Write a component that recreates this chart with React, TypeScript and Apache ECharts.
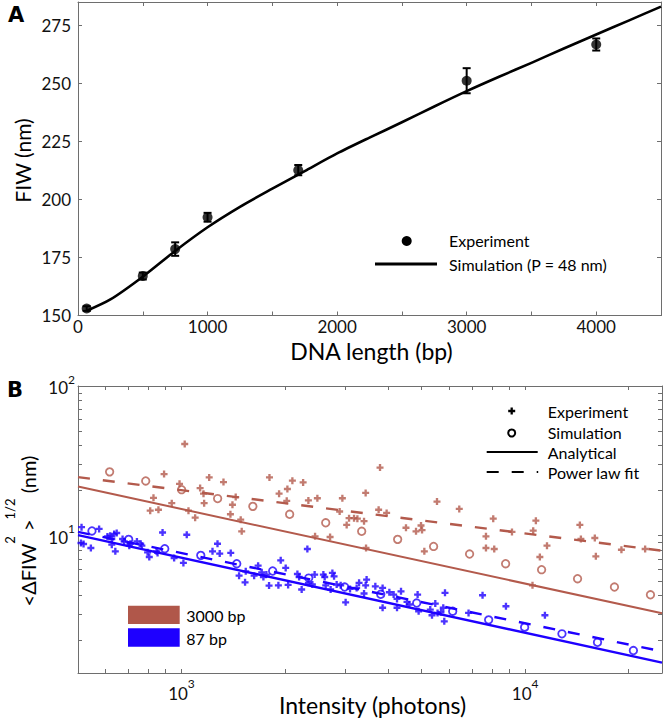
import React, { useEffect, useRef } from 'react';
import * as echarts from 'echarts';

const RED = '#b35a4c';
const RED_BOX = '#b0574a';
const BLUE = '#1e00ff';
const AXIS_COLOR = '#6e6e6e';
const LABEL_COLOR = '#111111';
const FONT = 'Lato';

// ---------- Panel A ----------
const expLength = [67, 500, 750, 1000, 1700, 3000, 4000];
const expFIW = [153, 167, 178.6, 192.3, 212.6, 251.1, 266.7];
const expErr = [1.0, 1.5, 2.9, 1.9, 2.2, 5.4, 2.6];
const simLength = [67, 250, 500, 750, 1000, 1250, 1500, 1750, 2000, 2250, 2500, 2750, 3000, 3250, 3500, 3750, 4000, 4250, 4500];
const simFIW = [152, 156.9, 166.7, 177.8, 188.0, 196.8, 204.6, 212.2, 219.8, 226.6, 233.2, 240.0, 246.6, 252.8, 258.8, 265.0, 271.0, 277.0, 283.0];
const aXTicks = [0, 500, 1000, 1500, 2000, 2500, 3000, 3500, 4000, 4500];
const aXLabels = [0, 1000, 2000, 3000, 4000];
const aYTicks = [150, 175, 200, 225, 250, 275];

// ---------- Panel B ----------
const red3000ExpX = [1022, 890, 829, 811, 857, 937, 987, 1048, 1096, 1133, 1159, 1164, 1204, 1325, 1388, 1407, 1438, 1487, 1497, 1803, 1923, 2024, 2033, 2102, 2259, 2340, 2485, 2447, 2706, 2938, 2885, 3024, 3073, 3177, 3249, 3434, 3397, 3443,
  3781, 3746, 3952, 4499, 4812, 4976, 5010, 5088, 5538, 6429, 7688, 7688, 8072, 8126, 9151, 10500, 10550, 10740, 11030, 11570, 14420, 14520, 15940, 16050, 19050, 22330];
const red3000ExpY = [41.0, 25.8, 17.9, 14.7, 14.9, 16.5, 22.2, 14.7, 13.2, 20.8, 19.1, 16.5, 24.5, 22.8, 13.9, 16.1, 18.1, 12.8, 10.7, 24.5, 19.1, 17.1, 20.5, 23.3, 22.7, 17.2, 17.8, 9.9, 9.8, 17.8, 14.5, 11.8, 13.1, 13.1, 13.0, 19.3, 12.5, 8.28,
  28.5, 14.9, 14.2, 11.3, 10.7, 11.7, 10.9, 7.86, 16.9, 15.1, 9.9, 8.28, 13.0, 8.15, 10.6, 4.66, 10.8, 12.6, 7.21, 8.58, 11.8, 9.51, 9.65, 7.28, 8.06, 8.15];

const blue87ExpX = [512, 576, 510, 519, 545, 609, 620, 627, 637, 648, 627, 642, 674, 681, 705, 710, 742, 761, 767, 797, 806, 846, 852, 881, 952, 1013, 1036, 1231, 1273, 1292, 1391, 1471, 1531, 1538, 1627, 1671, 1712, 1731, 1766, 1798, 1914, 1944, 2010, 2043, 2174, 2199, 2237, 2324, 2340, 2440, 2403, 2587, 2610, 2628, 2716, 2748, 2779, 2828, 2905, 3003, 3093, 3233, 3286, 3397, 3456, 3434,
  3664, 3847, 4025, 4142, 4237, 4352, 3847, 4237, 4530, 4600, 4864, 4897, 5294, 5356, 5475, 5559, 5687, 5776, 5815, 5843, 6842, 7514, 8789, 11410];
const blue87ExpY = [11.4, 11.1, 8.94, 8.80, 8.28, 9.89, 10.0, 9.51, 10.26, 10.42, 8.71, 7.86, 9.51, 9.16, 8.58, 8.84, 9.16, 8.84, 8.58, 7.74, 7.21, 7.86, 7.67, 10.5, 7.10, 6.58, 10.15, 7.86, 8.84, 7.59, 7.67, 5.41, 4.88, 5.78, 5.41, 6.31, 5.69, 5.30, 5.50, 4.64, 4.66, 6.85, 6.09, 4.69, 5.55, 5.30, 4.37, 8.15, 4.84, 5.50, 4.72, 5.50, 5.30, 4.66, 4.37, 5.64, 5.35, 4.72, 4.66, 3.59, 4.41, 4.48, 4.84, 4.11, 5.09, 4.66,
  4.59, 4.48, 4.19, 4.04, 3.78, 4.25, 3.30, 3.30, 3.61, 3.47, 4.04, 3.13, 3.21, 2.94, 3.52, 3.05, 3.08, 3.30, 2.68, 4.15, 3.05, 4.00, 3.38, 2.94];

const red3000SimX = [618, 787, 1001, 1274, 1613, 2064, 2628, 3344, 4255, 5413, 6889, 8770, 11160, 14200, 18180, 23140];
const red3000SimY = [26.7, 23.2, 20.3, 17.7, 15.7, 13.9, 12.2, 10.7, 9.45, 8.48, 7.54, 6.50, 5.93, 5.16, 4.54, 4.03];
const blue87SimX = [549, 702, 894, 1138, 1448, 1842, 2345, 2984, 3799, 4834, 6152, 7828, 9961, 12790, 16230, 20640];
const blue87SimY = [10.75, 9.45, 8.19, 7.39, 6.50, 5.81, 5.21, 4.54, 4.06, 3.55, 3.13, 2.74, 2.45, 2.21, 1.94, 1.71];

const lineEndsX = [500, 25000];
const red3000Analytical = [21.3, 3.03];
const red3000PowerFit = [24.6, 7.94];
const blue87Analytical = [10.1, 1.42];
const blue87PowerFit = [10.6, 1.69];

const bXTicks = [500, 600, 700, 800, 900, 1000, 2000, 3000, 4000, 5000, 6000, 7000, 8000, 9000, 10000, 20000];
const bXLabels = [1000, 10000];
const bYTicks = [2, 3, 4, 5, 6, 7, 8, 9, 10, 20, 30, 40, 50, 60, 70, 80, 90, 100];
const bYLabels = [10, 100];

const PLUS = 'path://M2,0H4V2H6V4H4V6H2V4H0V2H2Z';

const zip = (xs: number[], ys: number[]) => xs.map((x, i) => [x, ys[i]]);

function axis(gridIndex: number, type: string, min: number, max: number, position: string,
  ticks: number[], labels: number[] | null, labelOpts: any = {}) {
  return {
    type, gridIndex, min, max, position,
    ...(type === 'log' ? { logBase: 10 } : {}),
    axisLine: { show: true, onZero: false, lineStyle: { color: AXIS_COLOR, width: 1 } },
    axisTick: { show: true, inside: true, length: 4, customValues: ticks, lineStyle: { color: AXIS_COLOR, width: 1 } },
    axisLabel: labels
      ? { show: true, customValues: labels, color: LABEL_COLOR, fontFamily: FONT, fontSize: 17, ...labelOpts }
      : { show: false },
    splitLine: { show: false },
    minorTick: { show: false },
  };
}

const powFmt = (v: number) => `{b|10}{s|${Math.round(Math.log10(v))}}`;

function buildOption(): any {
  const xRich = {
    b: { fontSize: 17, fontFamily: FONT, color: LABEL_COLOR, lineHeight: 17, verticalAlign: 'bottom' },
    s: { fontSize: 12, fontFamily: FONT, color: LABEL_COLOR, lineHeight: 25, padding: [0, 0, 13, 0], verticalAlign: 'top' },
  };
  const yRich = {
    b: { fontSize: 17, fontFamily: FONT, color: LABEL_COLOR, lineHeight: 17, padding: [0, 0, 3, 0], verticalAlign: 'bottom' },
    s: { fontSize: 12, fontFamily: FONT, color: LABEL_COLOR, lineHeight: 26, padding: [0, 0, 14, 0], verticalAlign: 'top' },
  };

  const textEl = (text: string, x: number, y: number, fontSize: number, extra: any = {}, styleExtra: any = {}) => ({
    type: 'text', x, y, silent: true, ...extra,
    style: { text, fill: '#000', fontSize, fontFamily: FONT, align: 'left', verticalAlign: 'middle', ...styleExtra },
  });

  const plusPts = (cx: number, cy: number, h: number, t: number) => [
    [cx - t, cy - h], [cx + t, cy - h], [cx + t, cy - t], [cx + h, cy - t], [cx + h, cy + t], [cx + t, cy + t],
    [cx + t, cy + h], [cx - t, cy + h], [cx - t, cy + t], [cx - h, cy + t], [cx - h, cy - t], [cx - t, cy - t],
  ];

  return {
    animation: false,
    backgroundColor: '#ffffff',
    textStyle: { fontFamily: FONT },
    grid: [
      { left: 78, top: 2, width: 583, height: 313.5, outerBoundsMode: 'none', containLabel: false },
      { left: 78, top: 386, width: 584, height: 287, outerBoundsMode: 'none', containLabel: false },
    ],
    xAxis: [
      axis(0, 'value', 0, 4500, 'bottom', aXTicks, aXLabels, { margin: 2, formatter: (v: number) => String(v) }),
      axis(0, 'value', 0, 4500, 'top', aXTicks, null),
      axis(1, 'log', 500, 25000, 'bottom', bXTicks, bXLabels, { margin: 4, formatter: powFmt, rich: xRich }),
      axis(1, 'log', 500, 25000, 'top', bXTicks, null),
    ],
    yAxis: [
      axis(0, 'value', 150, 285, 'left', aYTicks, aYTicks, { margin: 7, formatter: (v: number) => String(v) }),
      axis(0, 'value', 150, 285, 'right', aYTicks, null),
      axis(1, 'log', 1.21, 100, 'left', bYTicks, bYLabels, { margin: 3, formatter: powFmt, rich: yRich }),
      axis(1, 'log', 1.21, 100, 'right', bYTicks, null),
    ],
    series: [
      // Panel A
      {
        type: 'line', name: 'Simulation (P = 48 nm)', xAxisIndex: 0, yAxisIndex: 0,
        data: zip(simLength, simFIW), showSymbol: false, smooth: 0.25,
        lineStyle: { color: '#000', width: 2.6, join: 'round' }, z: 2,
      },
      {
        type: 'custom', name: 'error', xAxisIndex: 0, yAxisIndex: 0,
        data: expLength.map((x, i) => [x, expFIW[i], expErr[i]]),
        encode: { x: 0, y: 1 },
        renderItem: (params: any, api: any) => {
          const x = api.value(0), y = api.value(1), e = api.value(2);
          const top = api.coord([x, y + e]);
          const bot = api.coord([x, y - e]);
          const cw = 4;
          const st = { stroke: '#000', lineWidth: 2 };
          return {
            type: 'group',
            children: [
              { type: 'line', shape: { x1: top[0], y1: top[1], x2: bot[0], y2: bot[1] }, style: st },
              { type: 'line', shape: { x1: top[0] - cw, y1: top[1], x2: top[0] + cw, y2: top[1] }, style: st },
              { type: 'line', shape: { x1: bot[0] - cw, y1: bot[1], x2: bot[0] + cw, y2: bot[1] }, style: st },
            ],
          };
        },
        z: 3,
      },
      {
        type: 'scatter', name: 'Experiment', xAxisIndex: 0, yAxisIndex: 0,
        data: zip(expLength, expFIW), symbol: 'circle', symbolSize: 10,
        itemStyle: { color: '#000' }, z: 4,
      },
      // Panel B lines
      {
        type: 'line', xAxisIndex: 2, yAxisIndex: 2, data: zip(lineEndsX, red3000Analytical), showSymbol: false,
        lineStyle: { color: RED, width: 2 }, z: 2,
      },
      {
        type: 'line', xAxisIndex: 2, yAxisIndex: 2, data: zip(lineEndsX, red3000PowerFit), showSymbol: false,
        lineStyle: { color: RED, width: 2.4, type: [12, 13] }, z: 2,
      },
      {
        type: 'line', xAxisIndex: 2, yAxisIndex: 2, data: zip(lineEndsX, blue87Analytical), showSymbol: false,
        lineStyle: { color: BLUE, width: 2.4 }, z: 2,
      },
      {
        type: 'line', xAxisIndex: 2, yAxisIndex: 2, data: zip(lineEndsX, blue87PowerFit), showSymbol: false,
        lineStyle: { color: BLUE, width: 2.4, type: [12, 13] }, z: 2,
      },
      // Panel B markers
      {
        type: 'scatter', xAxisIndex: 2, yAxisIndex: 2, data: zip(red3000ExpX, red3000ExpY),
        symbol: PLUS, symbolSize: 7, itemStyle: { color: RED }, z: 3,
      },
      {
        type: 'scatter', xAxisIndex: 2, yAxisIndex: 2, data: zip(blue87ExpX, blue87ExpY),
        symbol: PLUS, symbolSize: 7, itemStyle: { color: BLUE }, z: 3,
      },
      {
        type: 'scatter', xAxisIndex: 2, yAxisIndex: 2, data: zip(red3000SimX, red3000SimY),
        symbol: 'circle', symbolSize: 7.5, itemStyle: { color: 'none', borderColor: RED, borderWidth: 1.8 }, z: 4,
      },
      {
        type: 'scatter', xAxisIndex: 2, yAxisIndex: 2, data: zip(blue87SimX, blue87SimY),
        symbol: 'circle', symbolSize: 7.5, itemStyle: { color: 'none', borderColor: BLUE, borderWidth: 1.8 }, z: 4,
      },
    ],
    graphic: [
      // panel letters
      textEl('A', 16, 14.5, 21, {}, { fontFamily: 'DejaVu Sans', fontWeight: 'bold', align: 'center' }),
      textEl('B', 15, 390, 21, {}, { fontFamily: 'DejaVu Sans', fontWeight: 'bold', align: 'center' }),
      // Panel A axis titles
      textEl('FIW (nm)', 22, 160.5, 21, { rotation: Math.PI / 2 }, { align: 'center' }),
      textEl('DNA length (bp)', 371.5, 351, 23, {}, { align: 'center' }),
      // Panel A legend
      { type: 'circle', silent: true, shape: { cx: 406.7, cy: 241, r: 5 }, style: { fill: '#000' } },
      { type: 'line', silent: true, shape: { x1: 375, y1: 264, x2: 437, y2: 264 }, style: { stroke: '#000', lineWidth: 3 } },
      textEl('Experiment', 449, 240, 16),
      textEl('Simulation (P = 48 nm)', 449, 264, 16),
      // Panel B axis titles
      textEl('Intensity (photons)', 372.5, 704.5, 23, {}, { align: 'center' }),
      {
        type: 'text', x: 20.5, y: 531, rotation: Math.PI / 2, silent: true,
        style: {
          text: '{m|<ΔFIW}{s|2}{m| >}{s|1/2}{m| (nm)}',
          align: 'center', verticalAlign: 'middle', fill: '#000',
          rich: {
            m: { fontSize: 20, fontFamily: FONT, fill: '#000', lineHeight: 20, verticalAlign: 'bottom' },
            s: { fontSize: 13, fontFamily: FONT, fill: '#000', lineHeight: 35, padding: [0, 0, 22, 0], verticalAlign: 'top' },
          },
        },
      },
      // Panel B marker legend
      { type: 'polygon', silent: true, shape: { points: plusPts(511.7, 411, 3.5, 1.15) }, style: { fill: '#000' } },
      textEl('Experiment', 547.7, 411, 16),
      { type: 'circle', silent: true, shape: { cx: 511.7, cy: 433, r: 3.5 }, style: { fill: 'none', stroke: '#000', lineWidth: 2 } },
      textEl('Simulation', 547.7, 432.5, 16),
      { type: 'line', silent: true, shape: { x1: 486.7, y1: 452, x2: 537.7, y2: 452 }, style: { stroke: '#000', lineWidth: 2 } },
      textEl('Analytical', 547.7, 452.5, 16),
      { type: 'line', silent: true, shape: { x1: 486.7, y1: 472, x2: 538.2, y2: 472 }, style: { stroke: '#000', lineWidth: 2, lineDash: [12, 13] } },
      textEl('Power law fit', 547.7, 472.5, 16),
      // Panel B colour legend
      { type: 'rect', silent: true, shape: { x: 128, y: 605.7, width: 51.7, height: 18.3 }, style: { fill: RED_BOX } },
      { type: 'rect', silent: true, shape: { x: 128, y: 628.3, width: 51.7, height: 18.4 }, style: { fill: BLUE } },
      textEl('3000 bp', 186.3, 615.7, 16),
      textEl('87 bp', 186.3, 638.3, 16),
    ],
  };
}

export default function App() {
  const ref = useRef<HTMLDivElement>(null);
  useEffect(() => {
    if (!ref.current) return;
    const chart = echarts.init(ref.current, null, { renderer: 'svg' });
    chart.setOption(buildOption());
    return () => chart.dispose();
  }, []);
  return (
    <div
      ref={ref}
      style={{ position: 'absolute', left: 0, top: 0, width: 664, height: 718, background: '#ffffff' }}
    />
  );
}
